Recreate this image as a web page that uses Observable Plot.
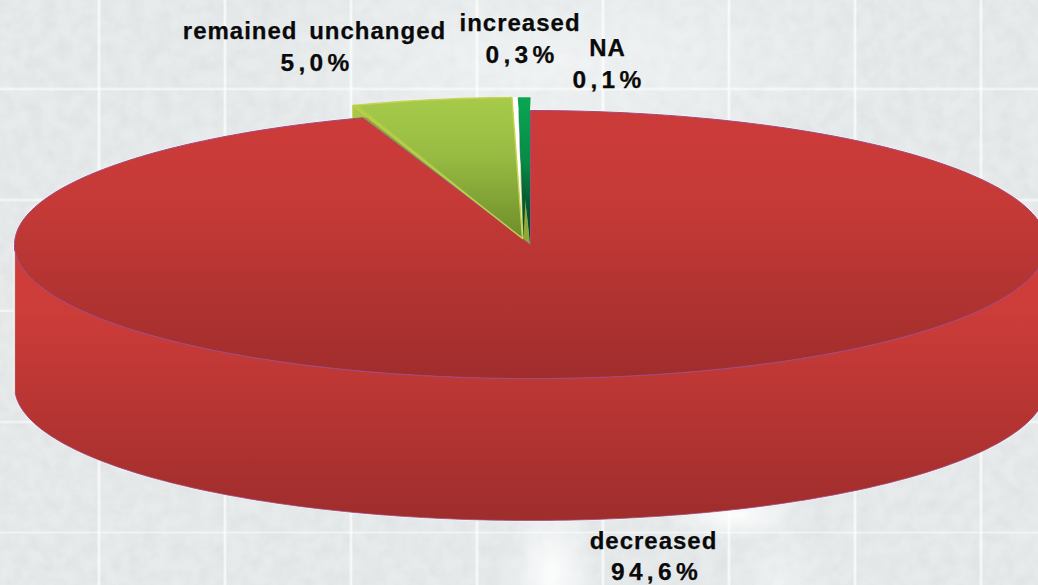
<!DOCTYPE html>
<html>
<head>
<meta charset="utf-8">
<script src="https://cdn.jsdelivr.net/npm/d3@7"></script>
<script src="https://cdn.jsdelivr.net/npm/@observablehq/plot@0.6"></script>
<style>
html,body{margin:0;padding:0;width:1038px;height:585px;overflow:hidden;background:#e3e7e8;}
#bg{position:absolute;left:0;top:0;width:1038px;height:585px;
  background-image:
   radial-gradient(ellipse 46px 80px at 552px 575px, rgba(255,255,255,.9), rgba(255,255,255,0)),
   radial-gradient(ellipse 70px 26px at 735px 515px, rgba(255,255,255,.9), rgba(255,255,255,0)),
   radial-gradient(ellipse 50px 60px at 780px 585px, rgba(255,255,255,.35), rgba(255,255,255,0)),
   radial-gradient(ellipse 330px 110px at 560px 60px, rgba(255,255,255,.42), rgba(255,255,255,0)),
   repeating-linear-gradient(90deg, rgba(255,255,255,0) 0 97.5px, rgba(255,255,255,.25) 97.5px 98.5px, rgba(255,255,255,.65) 98.5px 100px, rgba(255,255,255,.25) 100px 101px, rgba(255,255,255,0) 101px 126px),
   repeating-linear-gradient(0deg, rgba(255,255,255,0) 0 50.5px, rgba(255,255,255,.2) 50.5px 51.5px, rgba(255,255,255,.5) 51.5px 53px, rgba(255,255,255,.2) 53px 54px, rgba(255,255,255,0) 54px 111px),
   url("data:image/svg+xml;utf8,<svg xmlns='http://www.w3.org/2000/svg' width='1038' height='585'><filter id='n'><feTurbulence type='fractalNoise' baseFrequency='0.07' numOctaves='4' seed='4'/><feColorMatrix values='0 0 0 0 .62  0 0 0 0 .65  0 0 0 0 .67  .55 0 0 0 -.17'/></filter><rect width='1038' height='585' filter='url(%23n)'/></svg>");
  background-color:#e7ebec;}
#chart{position:absolute;left:0;top:0;}
#chart svg{background:transparent;display:block;}
.name text,text.name{letter-spacing:1px;word-spacing:4px;}
.pct text,text.pct{letter-spacing:4.3px;}
</style>
</head>
<body>
<div id="bg"></div>
<div id="chart"></div>
<script>
// values as printed on the chart
const categories = ["decreased", "remained unchanged", "increased", "NA"];
const values = [94.6, 5.0, 0.3, 0.1];
// angular extent of each slice as drawn, in % of the circle, clockwise from 12 o'clock
const drawnStart = [0, 94.6, 99.67, 99.62];
const drawnEnd = [94.72, 99.67, 99.86, 100];

// Pie-unit layout: 1 x unit = disc x radius, 1 y unit = disc y radius, centre at 0,0
const W = 1038, H = 585, rx = 516, ry = 134, cx = 530, cy = 244;
const depth = 142 / ry;
const ux = px => (px - cx) / rx;
const uy = py => (cy - py) / ry;
const explode = {
  "remained unchanged": {ox: ux(522), oy: uy(238), sx: .988, sy: 1.052},
  "increased": {ox: ux(522), oy: uy(238), sx: .988, sy: 1.052},
  "NA": {ox: ux(529.5), oy: uy(243), sx: 1, sy: 1.09},
  "NA wall": {ox: ux(523), oy: uy(237), sx: 1, sy: 1.045}
};
const wedge = (s, e, g = {ox: 0, oy: 0, sx: 1, sy: 1}, dy = 0) => {
  const n = Math.max(2, Math.ceil((e - s) * 3)), pts = [{x: g.ox, y: g.oy + dy}];
  for (let i = 0; i <= n; i++) {
    const a = (s + (e - s) * i / n) / 100 * 2 * Math.PI;
    pts.push({x: g.ox + g.sx * Math.sin(a), y: g.oy + dy + g.sy * Math.cos(a)});
  }
  return pts;
};
const front = [];
for (let i = 0; i <= 180; i++) {
  const a = i / 180 * Math.PI;
  front.push({x: Math.cos(a), y: -Math.sin(a)});
}
const wallPts = [...front, ...front.slice().reverse().map(p => ({x: p.x, y: p.y - depth}))];

// side face of the "remained unchanged" slice: its left edge dropped by the slice thickness
const green = explode["remained unchanged"], greenDrop = 14 / ry;
const greenEdge = wedge(drawnStart[1], drawnStart[1], green).slice(0, 2);
const greenSide = [greenEdge[0], greenEdge[1],
  {x: greenEdge[1].x, y: greenEdge[1].y - greenDrop},
  {x: greenEdge[0].x, y: greenEdge[0].y - greenDrop}];

const defs = () => {
  const g = d3.create("svg:defs");
  const grad = (id, stops) => {
    const l = g.append("linearGradient").attr("id", id).attr("x1", 0).attr("x2", 0).attr("y1", 0).attr("y2", 1);
    stops.forEach(([o, c]) => l.append("stop").attr("offset", o).attr("stop-color", c));
  };
  grad("redTop", [[0, "#cc3b39"], [.35, "#c53a37"], [1, "#9f2d2c"]]);
  grad("redWall", [[0, "#d03e3b"], [.25, "#cc3c39"], [1, "#9e2d2c"]]);
  grad("greenTop", [[0, "#a6cb4a"], [.4, "#98bc43"], [1, "#6f8d2b"]]);
  grad("naDark", [[0, "#09a653"], [.45, "#088a45"], [.72, "#065a30"], [1, "#043f22"]]);
  return g.node();
};

const line = (pts, o) => Plot.line(pts, {x: "x", y: "y", curve: "linear-closed", ...o});
const labelData = categories.map((c, i) => ({
  name: c,
  pct: values[i].toFixed(1).replace(".", ",") + "%",
  xName: ux([653, 314, 519.5, 607][i]),
  xPct: ux([656, 316.5, 521.5, 608.5][i]),
  y1: uy([541, 31, 23, 48][i]),
  y2: uy([572, 63, 55, 80][i])
}));

const chart = Plot.plot({
  width: W, height: H, margin: 0,
  style: {background: "transparent"},
  x: {domain: [ux(0), ux(W)], range: [0, W], axis: null},
  y: {domain: [uy(H), uy(0)], range: [H, 0], axis: null},
  marks: [
    defs,
    // soft halo around the disc
    line(wallPts, {stroke: "#ffffff", strokeWidth: 2.4, strokeOpacity: .55}),
    line(wedge(0, 100), {stroke: "#ffffff", strokeWidth: 2.4, strokeOpacity: .55}),
    // slice side seen behind the disc
    line(greenSide, {fill: "#a9c646", stroke: "#b9cf4a", strokeWidth: 1}),
    // outer wall
    line(wallPts, {fill: "url(#redWall)", stroke: "#a24a80", strokeWidth: .8}),
    Plot.ruleX([-1], {y1: -0.05, y2: -depth - 0.05, stroke: "#e6dede", strokeWidth: 1.2}),
    // inner faces at the notch
    line(wedge(94.7, 99.5), {fill: "#8fa838"}),
    line(wedge(99.5, 100), {fill: "#065a30"}),
    // top of the big slice
    line(wedge(drawnStart[0], drawnEnd[0]), {fill: "url(#redTop)", stroke: "#a24a80", strokeWidth: 1}),
    // exploded slices
    line(wedge(drawnStart[2], drawnEnd[2], explode["increased"]), {fill: "#ffffff", stroke: "#ffffff", strokeWidth: .5}),
    line(wedge(drawnStart[1], drawnEnd[1], green), {fill: "url(#greenTop)", stroke: "#c6d34f", strokeWidth: 1.4}),
    line(wedge(drawnStart[1], drawnStart[1] + .16, green), {fill: "#b4cc48"}),
    line(wedge(99.85, 100.22, explode["NA wall"]), {fill: "url(#naDark)"}),
    line(wedge(drawnStart[3], drawnEnd[3], explode["NA"]), {fill: "url(#naDark)"}),
    // labels
    Plot.text(labelData, {x: "xName", y: "y1", text: "name", className: "name", fontWeight: 700, fontSize: 24, fontFamily: "Liberation Sans", fill: "#0a0a0a", stroke: "#0a0a0a", strokeWidth: .25, textAnchor: "middle"}),
    Plot.text(labelData, {x: "xPct", y: "y2", text: "pct", className: "pct", fontWeight: 700, fontSize: 24.5, fontFamily: "Liberation Sans", fill: "#0a0a0a", stroke: "#0a0a0a", strokeWidth: .25, textAnchor: "middle"})
  ]
});
document.getElementById("chart").appendChild(chart);
</script>
</body>
</html>
